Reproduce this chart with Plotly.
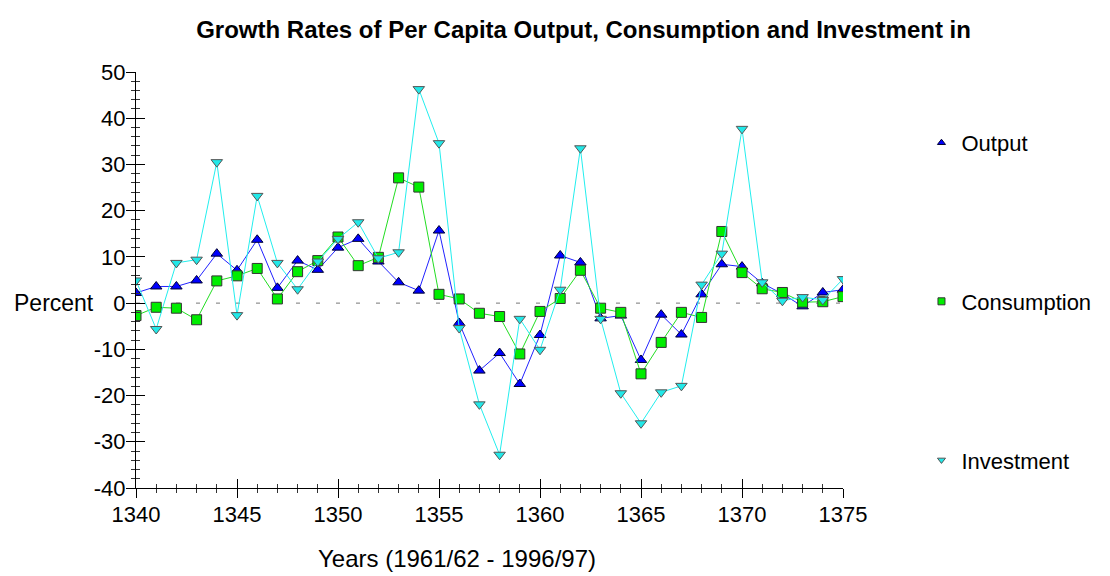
import plotly.graph_objects as go

years = list(range(1340, 1376))
output = [2.2, 3.6, 3.6, 4.9, 10.7, 7.1, 13.7, 3.3, 9.2, 7.2, 12.0, 13.9,
          9.0, 4.5, 2.7, 15.7, -4.3, -14.6, -10.8, -17.5, -6.9, 10.3,
          8.8, -3.3, -2.7, -12.3, -2.5, -6.8, 1.9, 8.4, 7.9, 4.3, 2.0, -0.7, 2.3, 2.9]
consumption = [-2.7, -0.9, -1.1, -3.6, 4.8, 5.9, 7.5, 0.9, 6.8, 9.2, 14.3, 8.1,
               9.9, 27.1, 25.1, 1.9, 0.9, -2.2, -2.9, -11.0, -1.8, 1.0,
               7.1, -1.1, -2.0, -15.3, -8.5, -2.0, -3.1, 15.5, 6.6, 3.1, 2.3, 0.2, 0.3, 1.4]
investment = [4.9, -5.6, 8.7, 9.4, 30.5, -2.6, 23.2, 8.7, 3.0, 9.0, 13.9, 17.5,
              9.7, 11.0, 46.3, 34.6, -5.4, -21.9, -32.8, -3.4, -10.1, 2.9,
              33.5, -3.4, -19.5, -26.0, -19.3, -17.9, 4.0, 10.7, 37.7, 4.5, 0.5, 1.3, 0.7, 5.2]

y_ticks = [-40, -30, -20, -10, 0, 10, 20, 30, 40, 50]
y_tick_labels = ["-40", "-30", "-20", "-10", "0", "10", "20", "30", "40", "50"]
x_ticks = [1340, 1345, 1350, 1355, 1360, 1365, 1370, 1375]
x_tick_labels = ["1340", "1345", "1350", "1355", "1360", "1365", "1370", "1375"]

FONT = "Liberation Sans, Arial, sans-serif"
FS = 22

series = [
    ("Output", output, "triangle-up", "#2222ff", "#0000ff", "#000033"),
    ("Consumption", consumption, "square", "#22dd22", "#00ee00", "#333333"),
    ("Investment", investment, "triangle-down", "#22eeee", "#22e8e8", "#555555"),
]

fig = go.Figure()
for name, vals, sym, lc, fc, oc in series:
    fig.add_trace(go.Scatter(
        x=years, y=vals, name=name, mode="lines+markers", showlegend=False,
        line=dict(color=lc, width=1),
        marker=dict(symbol=sym, size=10, color=fc, line=dict(color=oc, width=1))))
for i, (name, vals, sym, lc, fc, oc) in enumerate(series):
    # legend entry: marker only
    fig.add_trace(go.Scatter(
        x=[None], y=[None], name=name, mode="markers", legendgroup=str(i),
        marker=dict(symbol=sym, size=7, color=fc, line=dict(color=oc, width=1))))

# helper trace so the overlay axes (inside ticks) get drawn
fig.add_trace(go.Scatter(x=[None], y=[None], xaxis="x2", yaxis="y2",
                         showlegend=False, hoverinfo="skip"))

fig.add_shape(type="line", xref="paper", yref="y", x0=0, x1=1, y0=0, y1=0,
              line=dict(color="#777777", width=1, dash="4px,16px"), layer="below")

common_x = dict(range=[1340, 1375], tickvals=x_ticks, showgrid=False,
                zeroline=False, showline=True, linecolor="black", linewidth=1,
                tickcolor="black", tickwidth=1)
common_y = dict(range=[-40, 50], tickvals=y_ticks, showgrid=False,
                zeroline=False, showline=True, linecolor="black", linewidth=1,
                tickcolor="black", tickwidth=1)

fig.update_layout(
    width=1110, height=576,
    paper_bgcolor="white", plot_bgcolor="white",
    margin=dict(l=128, r=275, t=64, b=96),
    font=dict(family=FONT, size=FS, color="black"),
    title=dict(text="<b>Growth Rates of Per Capita Output, Consumption and Investment in</b>",
               x=0.5185, xanchor="center", y=0.962, yanchor="middle",
               font=dict(family=FONT, size=24, color="black")),
    legend=dict(x=1.111, y=0.88, xanchor="left", yanchor="top",
                tracegroupgap=127, font=dict(family=FONT, size=FS),
                bgcolor="rgba(0,0,0,0)"),
    xaxis=dict(**common_x, ticktext=x_tick_labels, ticks="outside", ticklen=9,
               ticklabelstandoff=-2,
               minor=dict(dtick=1, tick0=1340, ticks="outside", ticklen=4,
                          tickcolor="#333333"),
               tickfont=dict(size=FS)),
    yaxis=dict(**common_y, ticktext=y_tick_labels, ticks="outside", ticklen=9,
               ticklabelstandoff=-4,
               minor=dict(dtick=2, tick0=-40, ticks="outside", ticklen=4,
                          tickcolor="#333333"),
               tickfont=dict(size=FS)),
    xaxis2=dict(**common_x, overlaying="x", anchor="y", showticklabels=False,
                ticks="inside", ticklen=9,
                minor=dict(dtick=1, tick0=1340, ticks="inside", ticklen=4,
                           tickcolor="#333333")),
    yaxis2=dict(**common_y, overlaying="y", anchor="x", showticklabels=False,
                ticks="inside", ticklen=9,
                minor=dict(dtick=2, tick0=-40, ticks="inside", ticklen=4,
                           tickcolor="#333333")),
)

fig.add_annotation(text="Percent", xref="paper", yref="y", x=-0.1754, y=0,
                   xanchor="left", yanchor="middle", showarrow=False,
                   font=dict(family=FONT, size=23, color="black"))
fig.add_annotation(text="Years (1961/62 - 1996/97)", xref="paper", yref="paper",
                   x=0.454, y=0, yshift=-70, xanchor="center", yanchor="middle",
                   showarrow=False, font=dict(family=FONT, size=24, color="black"))

fig.write_html("out.html")
